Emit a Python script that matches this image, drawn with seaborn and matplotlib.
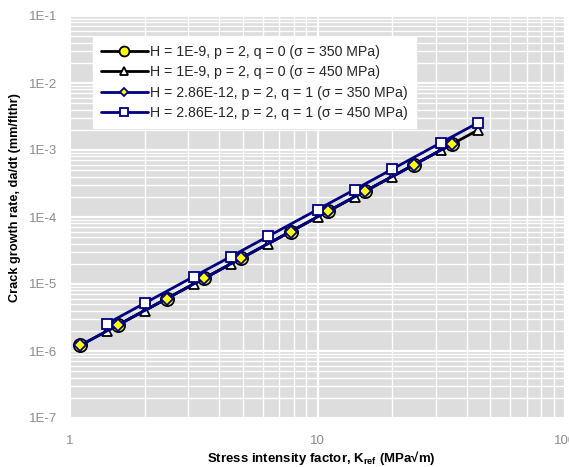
import matplotlib
matplotlib.use("Agg")
import matplotlib.pyplot as plt
import matplotlib.ticker as mticker
import numpy as np
import pandas as pd
import seaborn as sns

# Stress intensity factor at each crack size, for the two stress levels
k_350 = [1.10, 1.556, 2.46, 3.48, 4.92, 7.78, 11.0, 15.56, 24.6, 34.8]
k_450 = [1.414, 2.0, 3.16, 4.47, 6.32, 10.0, 14.14, 20.0, 31.6, 44.7]

# Crack growth rates (mm/flthr)
rate_h1e9_s350 = [1.21e-6, 2.42e-6, 6.05e-6, 1.21e-5, 2.42e-5, 6.05e-5, 1.21e-4, 2.42e-4, 6.05e-4, 1.21e-3]
rate_h1e9_s450 = [2.0e-6, 4.0e-6, 1.0e-5, 2.0e-5, 4.0e-5, 1.0e-4, 2.0e-4, 4.0e-4, 1.0e-3, 2.0e-3]
rate_h286_s350 = [1.21e-6, 2.42e-6, 6.06e-6, 1.21e-5, 2.42e-5, 6.06e-5, 1.21e-4, 2.42e-4, 6.06e-4, 1.21e-3]
rate_h286_s450 = [2.57e-6, 5.15e-6, 1.29e-5, 2.57e-5, 5.15e-5, 1.29e-4, 2.57e-4, 5.15e-4, 1.29e-3, 2.57e-3]

labels = [
    "H = 1E-9, p = 2, q = 0 (\u03c3 = 350 MPa)",
    "H = 1E-9, p = 2, q = 0 (\u03c3 = 450 MPa)",
    "H = 2.86E-12, p = 2, q = 1 (\u03c3 = 350 MPa)",
    "H = 2.86E-12, p = 2, q = 1 (\u03c3 = 450 MPa)",
]

y_ticks = [1e-7, 1e-6, 1e-5, 1e-4, 1e-3, 1e-2, 1e-1]
y_tick_labels = ["1E-7", "1E-6", "1E-5", "1E-4", "1E-3", "1E-2", "1E-1"]
x_ticks = [1, 10, 100]
x_tick_labels = ["1", "10", "100"]

sns.set_theme(style="white")
plt.rcParams["font.family"] = ["Liberation Sans", "DejaVu Sans"]

fig = plt.figure(figsize=(5.69, 4.67), dpi=100)
ax = fig.add_axes([70 / 569, 1 - 418 / 467, 495 / 569, 402 / 467])
ax.set_facecolor("#DDDDDD")

series = [
    (k_350, rate_h1e9_s350, labels[0], "black", "o", "#FFFF00", "black", 9.5),
    (k_450, rate_h1e9_s450, labels[1], "black", "^", "white", "black", 7.5),
    (k_350, rate_h286_s350, labels[2], "#000080", "D", "#FFFF00", "#000080", 6.0),
    (k_450, rate_h286_s450, labels[3], "#000080", "s", "white", "#000080", 7.5),
]

for xs, ys, lab, lc, mk, mfc, mec, ms in series:
    df = pd.DataFrame({"K": xs, "rate": ys})
    sns.lineplot(data=df, x="K", y="rate", ax=ax, color=lc, linewidth=2.0,
                 marker=mk, markersize=ms, markerfacecolor=mfc,
                 markeredgecolor=mec, markeredgewidth=1.3, label=lab,
                 zorder=3)

ax.set_xscale("log")
ax.set_yscale("log")
ax.set_xlim(1, 100)
ax.set_ylim(1e-7, 1e-1)

ax.xaxis.set_minor_locator(mticker.LogLocator(base=10, subs=np.arange(2, 10)))
ax.yaxis.set_minor_locator(mticker.LogLocator(base=10, subs=np.arange(2, 10)))
ax.xaxis.set_minor_formatter(mticker.NullFormatter())
ax.yaxis.set_minor_formatter(mticker.NullFormatter())
ax.set_xticks(x_ticks)
ax.set_xticklabels(x_tick_labels)
ax.set_yticks(y_ticks)
ax.set_yticklabels(y_tick_labels)

ax.grid(which="major", color="white", linewidth=1.6)
ax.grid(which="minor", color="white", linewidth=1.0)
ax.set_axisbelow(True)
for s in ax.spines.values():
    s.set_visible(False)

ax.tick_params(axis="both", which="both", length=0, labelsize=9.5,
               labelcolor="#8C8C8C")
ax.tick_params(axis="x", pad=12)
ax.tick_params(axis="y", pad=9)

ax.set_xlabel("Stress intensity factor, K$_{\\mathregular{ref}}$ (MPa\u221am)",
              fontsize=9.5, fontweight="bold", color="black")
ax.set_ylabel("Crack growth rate, da/dt (mm/flthr)",
              fontsize=9.2, fontweight="bold", color="black")
ax.xaxis.set_label_coords(251 / 495, -31 / 402)
ax.yaxis.set_label_coords(-49 / 495, 220 / 402)

leg = ax.legend(loc="upper left", bbox_to_anchor=(23 / 495, 1 - 21 / 402),
                frameon=True, fancybox=False, fontsize=10.2, markerscale=0.75,
                handlelength=3.3, handletextpad=0.2, borderpad=0.55,
                labelspacing=0.45, borderaxespad=0)
leg.get_frame().set_facecolor("white")
leg.get_frame().set_edgecolor("white")
leg.get_frame().set_alpha(1.0)

fig.savefig("out.png", dpi=100)
